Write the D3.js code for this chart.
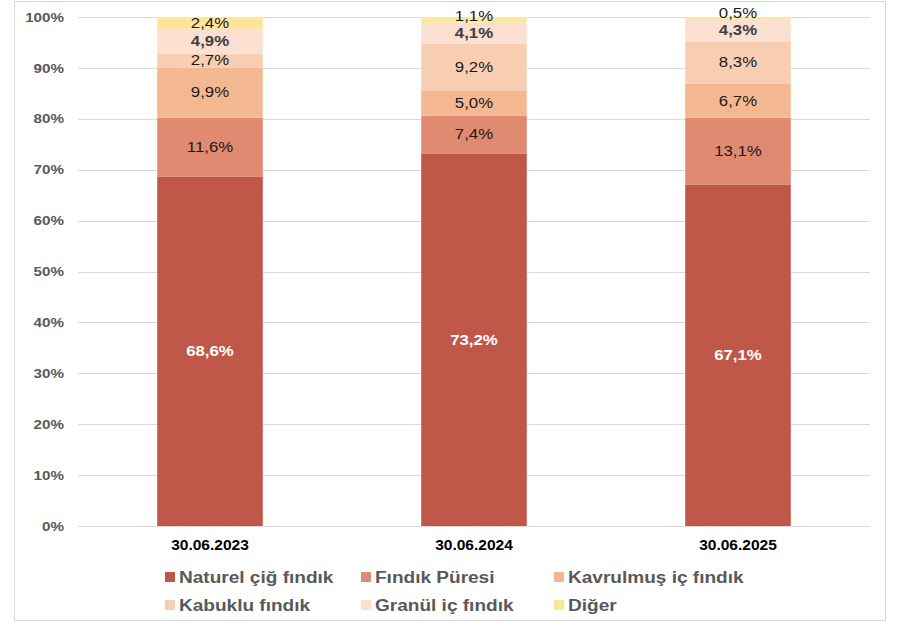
<!DOCTYPE html>
<html>
<head>
<meta charset="utf-8">
<script src="https://cdn.jsdelivr.net/npm/d3@7"></script>
<style>
  body { margin: 0; background: #fff; }
  svg { font-family: "Liberation Sans", Arial, sans-serif; }
</style>
</head>
<body>
<script>
const width = 899;
const height = 627;

// data
const dates = ['30.06.2023', '30.06.2024', '30.06.2025'];
const seriesNames = ['Naturel çiğ fındık', 'Fındık Püresi', 'Kavrulmuş iç fındık',
  'Kabuklu fındık', 'Granül iç fındık', 'Diğer'];
const naturel = [68.6, 73.2, 67.1];
const pure = [11.6, 7.4, 13.1];
const kavrulmus = [9.9, 5.0, 6.7];
const kabuklu = [2.7, 9.2, 8.3];
const granul = [4.9, 4.1, 4.3];
const diger = [2.4, 1.1, 0.5];
const yTicks = [0, 10, 20, 30, 40, 50, 60, 70, 80, 90, 100];

const seriesValues = [naturel, pure, kavrulmus, kabuklu, granul, diger];
const colours = ['#C0584A', '#E08A72', '#F4B890', '#F8CEB2', '#FBDFD0', '#FFE597'];
const labelColours = ['#ffffff', '#1a1a1a', '#1a1a1a', '#1a1a1a', '#404040', '#1a1a1a'];
const labelWeights = ['bold', 'normal', 'normal', 'normal', 'bold', 'normal'];

const rows = dates.map((d, i) => {
  const r = { date: d };
  seriesNames.forEach((s, j) => { r[s] = seriesValues[j][i]; });
  return r;
});

const margin = { top: 17, right: 29, bottom: 101, left: 78 };

// the source text is a little wider than Arial, stretch it sideways
function stretch (sel, s) {
  sel.each(function () {
    const t = d3.select(this);
    const tx = +t.attr('x') || 0;
    const prev = t.attr('transform') || '';
    t.attr('transform', `${prev} translate(${tx},0) scale(${s},1) translate(${-tx},0)`);
  });
}

const svg = d3.select('body').append('svg')
    .attr('width', width)
    .attr('height', height);

// outer border
svg.append('rect')
    .attr('x', 14.5).attr('y', 1.5)
    .attr('width', 871).attr('height', 619)
    .attr('fill', 'none')
    .attr('stroke', '#d9d9d9');

const x = d3.scaleBand()
    .domain(dates)
    .range([margin.left, width - margin.right])
    .paddingInner(0.6)
    .paddingOuter(0.3);

const y = d3.scaleLinear()
    .domain([0, 100])
    .range([height - margin.bottom, margin.top]);

// gridlines
svg.append('g')
    .selectAll('line')
    .data(yTicks)
    .join('line')
    .attr('x1', margin.left).attr('x2', width - margin.right)
    .attr('y1', (d) => Math.round(y(d)) + 0.5)
    .attr('y2', (d) => Math.round(y(d)) + 0.5)
    .attr('stroke', '#d9d9d9')
    .attr('stroke-width', 1);

// y axis
const yAxis = svg.append('g')
    .attr('transform', `translate(${margin.left},0)`)
    .call(d3.axisLeft(y).tickValues(yTicks).tickSize(0).tickPadding(14)
      .tickFormat((d) => d + '%'));
yAxis.select('.domain').remove();
yAxis.selectAll('text')
    .attr('fill', '#595959')
    .style('font-size', '13px')
    .style('font-weight', 'bold')
    .call(stretch, 1.17);

// x axis
const xAxis = svg.append('g')
    .attr('transform', `translate(0,${height - margin.bottom})`)
    .call(d3.axisBottom(x).tickSize(0).tickPadding(14));
xAxis.select('.domain').remove();
xAxis.selectAll('text')
    .attr('fill', '#000')
    .style('font-size', '14px')
    .style('font-weight', 'bold')
    .call(stretch, 1.11);

const stacked = d3.stack().keys(seriesNames)(rows);

const layer = svg.append('g')
    .selectAll('g')
    .data(stacked)
    .join('g')
    .attr('fill', (d, i) => colours[i]);

layer.selectAll('rect')
    .data((d) => d)
    .join('rect')
    .attr('x', (d) => x(d.data.date))
    .attr('width', x.bandwidth())
    .attr('y', (d) => y(Math.min(d[1], 100)))
    .attr('height', (d) => y(d[0]) - y(Math.min(d[1], 100)));

// value labels, centred in the segment; small ones at the top are pushed up
const fmt = (v) => v.toFixed(1).replace('.', ',') + '%';
const labelY = stacked.map((s) => s.map((d) => y((d[0] + Math.min(d[1], 100)) / 2)));
for (let i = 1; i < labelY.length; i++) {
  labelY[i].forEach((v, k) => {
    if (labelY[i - 1][k] - v < 17) labelY[i][k] = labelY[i - 1][k] - 17;
  });
}

stacked.forEach((s, i) => {
  svg.append('g')
      .selectAll('text')
      .data(s)
      .join('text')
      .attr('x', (d) => x(d.data.date) + x.bandwidth() / 2)
      .attr('y', (d, k) => labelY[i][k])
      .attr('dy', '0.35em')
      .attr('text-anchor', 'middle')
      .attr('fill', labelColours[i])
      .style('font-size', '14px')
      .style('font-weight', labelWeights[i])
      .text((d) => fmt(d[1] - d[0]))
      .call(stretch, 1.2);
});

// legend
const legendCols = [165, 361, 554];
const legendRows = [577, 605];
const legend = svg.append('g')
    .selectAll('g')
    .data(seriesNames)
    .join('g')
    .attr('transform', (d, i) => `translate(${legendCols[i % 3]},${legendRows[Math.floor(i / 3)]})`);

legend.append('rect')
    .attr('x', 0).attr('y', -5)
    .attr('width', 10).attr('height', 10)
    .attr('fill', (d, i) => colours[i]);

legend.append('text')
    .attr('x', 14)
    .attr('dy', '0.35em')
    .attr('fill', '#595959')
    .style('font-size', '16px')
    .style('font-weight', 'bold')
    .text((d) => d)
    .call(stretch, 1.19);
</script>
</body>
</html>
